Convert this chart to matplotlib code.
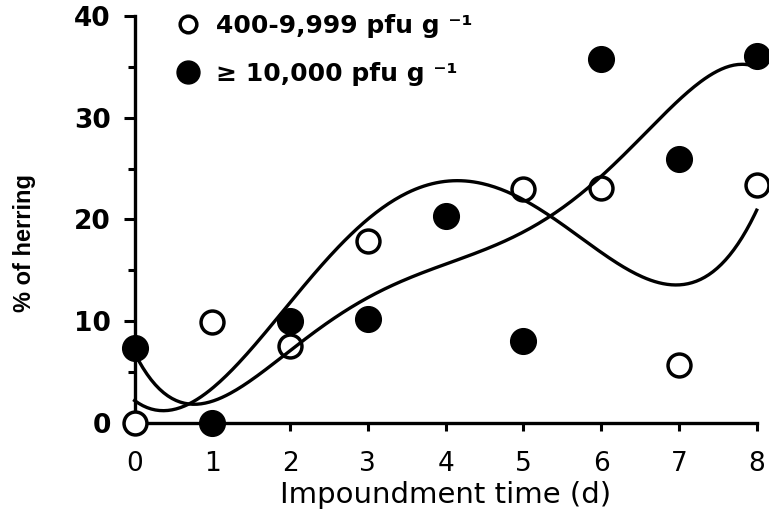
import numpy as np
import matplotlib.pyplot as plt
from matplotlib.lines import Line2D
from matplotlib.ticker import MultipleLocator

# % of herring by impoundment day
days_low = [0, 1, 2, 3, 5, 6, 7, 8]
pct_low = [0, 9.9, 7.6, 17.9, 23.0, 23.1, 5.7, 23.4]      # 400-9,999 pfu/g
days_high = [0, 1, 2, 3, 4, 5, 6, 7, 8]
pct_high = [7.4, 0, 10.0, 10.2, 20.3, 8.0, 35.8, 25.9, 36.1]  # >= 10,000 pfu/g

x_ticks = [0, 1, 2, 3, 4, 5, 6, 7, 8]
y_ticks = [0, 10, 20, 30, 40]
labels = ['400-9,999 pfu g \u207b\u00b9', '\u2265 10,000 pfu g \u207b\u00b9']

plt.rcParams['font.family'] = ['DejaVu Sans']

fig = plt.figure(figsize=(7.69, 5.15), dpi=100)
ax = fig.add_axes([0.175, 0.179, 0.809, 0.790])

# polynomial trend lines through each group
xs = np.linspace(0, 8, 300)
fit_low = np.polyval(np.polyfit(days_low, pct_low, 4), xs)
fit_high = np.polyval(np.polyfit(days_high, pct_high, 5), xs)
ax.plot(xs, fit_low, color='black', lw=2.4, zorder=4, clip_on=False)
ax.plot(xs, fit_high, color='black', lw=2.4, zorder=4, clip_on=False)

ax.plot(days_low, pct_low, 'o', ms=16.5, mfc='white', mec='black', mew=2.5,
        clip_on=False, zorder=3)
ax.plot(days_high, pct_high, 'o', ms=18.5, mfc='black', mec='black', mew=1,
        clip_on=False, zorder=3)

ax.set_xlim(0, 8)
ax.set_ylim(0, 40)
ax.set_xticks(x_ticks)
ax.set_yticks(y_ticks)
ax.yaxis.set_minor_locator(MultipleLocator(5))

for s in ['top', 'right']:
    ax.spines[s].set_visible(False)
for s in ['left', 'bottom']:
    ax.spines[s].set_linewidth(2.4)

ax.tick_params(axis='x', direction='out', length=6, width=2.2, pad=14, labelsize=19)
ax.tick_params(axis='y', which='major', direction='out', length=8, width=2.2,
               pad=9, labelsize=19)
ax.tick_params(axis='y', which='minor', direction='out', length=5, width=2.2)
for t in ax.get_yticklabels():
    t.set_fontweight('bold')

ax.set_xlabel('Impoundment time (d)', fontsize=21, labelpad=3)
fig.text(0.0325, 0.528, '% of herring', rotation=90, ha='center', va='center',
         fontsize=17, fontweight='bold', family='Liberation Sans')

handles = [
    Line2D([], [], ls='none', marker='o', ms=12, mfc='white', mec='black', mew=2.5),
    Line2D([], [], ls='none', marker='o', ms=16.5, mfc='black', mec='black'),
]
leg = ax.legend(handles, labels, loc='upper left',
                bbox_to_anchor=(175 / 769, 1 - 14 / 515),
                bbox_transform=fig.transFigure, frameon=False,
                prop={'size': 18, 'weight': 'bold'},
                borderpad=0, handlelength=1.05, handletextpad=0.6,
                labelspacing=0.95, borderaxespad=0)

fig.savefig('out.png', dpi=100)
